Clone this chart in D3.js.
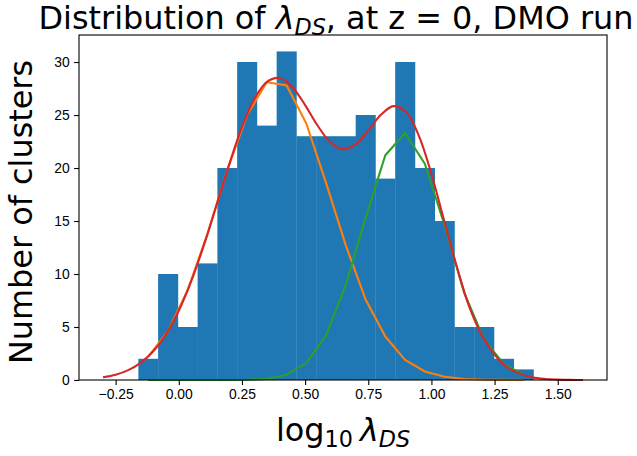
<!DOCTYPE html>
<html>
<head>
<meta charset="utf-8">
<script src="https://cdn.jsdelivr.net/npm/d3@7"></script>
<style>
  body { margin: 0; background: #fff; }
  svg { display: block; font-family: "DejaVu Sans", sans-serif; }
  .tick text { font-size: 13.9px; fill: #000; }
  .tick line { stroke: #000; stroke-width: 1.1; }
  .domain { display: none; }
</style>
</head>
<body>
<svg id="chart" width="637" height="456"></svg>
<script>

// histogram of log10 lambda_DS, 20 equal bins
var histMin = -0.160,
    histMax = 1.404;
var counts = [2, 10, 5, 11, 20, 30, 24, 31, 23, 23, 23, 25, 19, 30, 20, 15, 5, 5, 2, 1];

// gaussian components, read at the bin centres
var fitLow  = [2.2, 4.6, 8.5, 13.8, 19.8, 25.0, 28.1, 27.8, 24.2, 18.6, 12.7, 7.6, 4.1, 1.9, 0.8, 0.3, 0.1, 0.03, 0.01, 0.0];
var fitHigh = [0, 0, 0, 0, 0, 0.02, 0.1, 0.5, 1.6, 4.2, 9.0, 15.3, 21.2, 23.3, 20.4, 14.6, 8.2, 3.8, 1.5, 0.5];

// total fit, sampled finely
var totalX = [-0.30, -0.25, -0.20, -0.15, -0.10, -0.05, 0.00, 0.05, 0.10, 0.15,
              0.20, 0.25, 0.30, 0.35, 0.40, 0.45, 0.50, 0.55, 0.60, 0.65,
              0.70, 0.75, 0.80, 0.85, 0.90, 0.95, 1.00, 1.05, 1.10, 1.15,
              1.20, 1.25, 1.30, 1.35, 1.40, 1.45, 1.50, 1.55, 1.60];
var totalY = [0.26, 0.5, 0.93, 1.64, 2.73, 4.34, 6.54, 9.37, 12.77, 16.55,
              20.37, 23.85, 26.56, 28.16, 28.49, 27.63, 25.94, 23.99, 22.43, 21.77,
              22.22, 23.53, 25.02, 25.84, 25.28, 23.06, 19.44, 15.07, 10.71, 6.9,
              4.2, 2.4, 1.2, 0.6, 0.25, 0.1, 0.04, 0.01, 0.0];

var xTicks = [-0.25, 0, 0.25, 0.5, 0.75, 1.0, 1.25, 1.5];
var yTicks = [0, 5, 10, 15, 20, 25, 30];

var margin = {top: 35, right: 30, bottom: 76, left: 79},
    width = 637 - margin.left - margin.right,
    height = 456 - margin.top - margin.bottom;

var svg = d3.select('#chart');
var g = svg.append('g')
    .attr('transform', 'translate(' + margin.left + ',' + margin.top + ')');

var binW = (histMax - histMin) / counts.length;
var bins = counts.map(function(c, i) {
  return {x0: histMin + i * binW, x1: histMin + (i + 1) * binW, n: c};
});
var centers = bins.map(function(b) { return (b.x0 + b.x1) / 2; });

// matplotlib style 5% margins
var xlo = d3.min(totalX), xhi = d3.max(totalX), pad = 0.05 * (xhi - xlo);
var x = d3.scaleLinear().domain([xlo - pad, xhi + pad]).range([0, width]);
var y = d3.scaleLinear().domain([0, d3.max(counts) * 1.05]).range([height, 0]);

g.selectAll('rect.bar')
  .data(bins)
  .enter().append('rect')
    .attr('class', 'bar')
    .attr('x', function(d) { return x(d.x0); })
    .attr('width', function(d) { return x(d.x1) - x(d.x0) + 0.3; })
    .attr('y', function(d) { return y(d.n); })
    .attr('height', function(d) { return y(0) - y(d.n); })
    .attr('fill', '#1f77b4');

var line = d3.line()
    .x(function(d) { return x(d[0]); })
    .y(function(d) { return y(d[1]); });

g.append('path')
    .datum(d3.zip(centers, fitLow))
    .attr('d', line)
    .attr('fill', 'none')
    .attr('stroke', '#ff7f0e')
    .attr('stroke-width', 2.1)
    .attr('stroke-linejoin', 'round');

g.append('path')
    .datum(d3.zip(centers, fitHigh))
    .attr('d', line)
    .attr('fill', 'none')
    .attr('stroke', '#2ca02c')
    .attr('stroke-width', 2.1)
    .attr('stroke-linejoin', 'round');

g.append('path')
    .datum(d3.zip(totalX, totalY))
    .attr('d', line.curve(d3.curveCatmullRom))
    .attr('fill', 'none')
    .attr('stroke', '#d62728')
    .attr('stroke-width', 2.1)
    .attr('stroke-linejoin', 'round');

// axes
g.append('g')
    .attr('transform', 'translate(0,' + height + ')')
    .call(d3.axisBottom(x).tickValues(xTicks).tickFormat(d3.format('.2f'))
      .tickSize(4.9).tickPadding(4.5));

g.append('g')
    .call(d3.axisLeft(y).tickValues(yTicks).tickFormat(d3.format('d'))
      .tickSize(4.9).tickPadding(4.5));

// frame
g.append('rect')
    .attr('width', width)
    .attr('height', height)
    .attr('fill', 'none')
    .attr('stroke', '#000')
    .attr('stroke-width', 1.1);

// labels
var title = svg.append('text')
    .attr('x', 336)
    .attr('y', 29)
    .attr('text-anchor', 'middle')
    .attr('font-size', 31.9);
title.append('tspan').text('Distribution of ');
title.append('tspan').attr('font-style', 'italic').text('λ');
title.append('tspan').attr('font-style', 'italic').attr('font-size', 22.3)
    .attr('dy', 6).text('DS');
title.append('tspan').attr('dy', -6).text(', at z = 0, DMO run');

var xlab = svg.append('text')
    .attr('x', 343)
    .attr('y', 441)
    .attr('text-anchor', 'middle')
    .attr('font-size', 31.9);
xlab.append('tspan').text('log');
xlab.append('tspan').attr('font-size', 22.3).attr('dy', 6).text('10');
xlab.append('tspan').attr('dy', -6).attr('dx', 7).attr('font-style', 'italic').text('λ');
xlab.append('tspan').attr('font-style', 'italic').attr('font-size', 22.3)
    .attr('dy', 6).text('DS');

svg.append('text')
    .attr('transform', 'translate(32,212) rotate(-90)')
    .attr('text-anchor', 'middle')
    .attr('font-size', 31.9)
    .text('Number of clusters');

</script>
</body>
</html>
